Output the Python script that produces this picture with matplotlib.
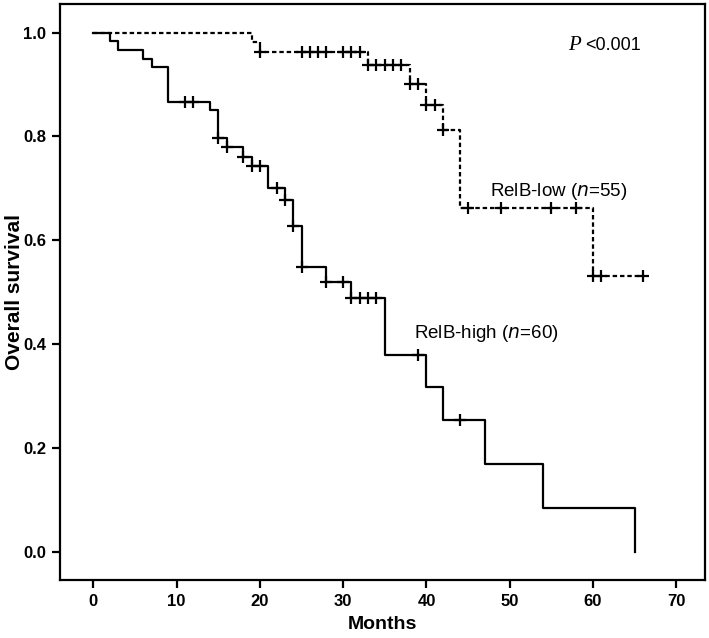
import numpy as np
import matplotlib
matplotlib.use("Agg")
import matplotlib.pyplot as plt

# RelB-high: event times (months) and survival after each step
high_t = [0, 2, 3, 6, 7, 9, 14, 15, 16, 18, 19, 21, 23, 24, 25, 28, 31, 35, 40, 42, 47, 54, 65]
high_s = [1.0, 0.983, 0.967, 0.95, 0.933, 0.867, 0.85, 0.797, 0.779, 0.760, 0.743, 0.70,
          0.677, 0.628, 0.549, 0.52, 0.488, 0.379, 0.317, 0.253, 0.169, 0.084, 0.0]
high_cens = [11, 12, 15, 16, 18, 19, 20, 22, 23, 24, 25, 28, 30, 31, 32, 33, 34, 39, 44]

# RelB-low
low_t = [0, 19, 20, 33, 38, 40, 42, 44, 60, 66]
low_s = [1.0, 0.981, 0.962, 0.937, 0.901, 0.86, 0.813, 0.663, 0.531, 0.531]
low_cens = [20, 25, 26, 27, 28, 30, 31, 32, 33, 34, 35, 36, 37, 38, 39, 40, 41, 42,
            45, 49, 55, 58, 60, 61, 66]


def surv_at(times, surv, t):
    idx = np.searchsorted(times, t, side="right") - 1
    return np.array(surv)[idx]


fig = plt.figure(figsize=(7.09, 6.38), dpi=100)
ax = fig.add_axes([0.0846, 0.0909, 0.9098, 0.9036])

ax.step(high_t, high_s, where="post", color="black", lw=1.6)
ax.plot(high_cens, surv_at(high_t, high_s, high_cens), "+", color="black",
        ms=8, mew=1.6)

ax.step(low_t, low_s, where="post", color="black", lw=1.6, linestyle=(0, (2, 1.3)))
ax.plot(low_cens, surv_at(low_t, low_s, low_cens), "+", color="black",
        ms=8, mew=1.6)

ax.set_xlim(-4, 73.45)
ax.set_ylim(-0.0545, 1.056)
ax.set_xticks(range(0, 71, 10))
ax.set_yticks([0.0, 0.2, 0.4, 0.6, 0.8, 1.0])
ax.set_yticklabels(["0.0", "0.2", "0.4", "0.6", "0.8", "1.0"])

for lab in ax.get_xticklabels() + ax.get_yticklabels():
    lab.set_fontfamily("Liberation Sans")
    lab.set_fontweight("bold")
    lab.set_fontsize(12)
ax.tick_params(direction="out", length=6, width=1.6, pad=4)
for sp in ax.spines.values():
    sp.set_linewidth(1.6)

xl = ax.set_xlabel("Months", fontsize=14, fontweight="bold", family="Liberation Sans")
xl.set_va("center")
ax.xaxis.set_label_coords(0.5, -0.078)
ax.set_ylabel("Overall survival", fontsize=15, fontweight="bold", family="Liberation Sans")
ax.yaxis.set_label_coords(-0.056, 0.5)

ax.text(38.5, 0.42, "RelB-high ($\\it{n}$=60)", fontsize=13.5,
        family="Liberation Sans", va="center", ha="left")
ax.text(47.6, 0.694, "RelB-low ($\\it{n}$=55)", fontsize=13.5,
        family="Liberation Sans", va="center", ha="left")
ax.text(57.0, 0.975, "P", fontsize=15, family="Liberation Serif", style="italic",
        va="center", ha="left")
ax.text(59.0, 0.975, "<0.001", fontsize=13, family="Liberation Sans",
        va="center", ha="left")

fig.savefig("out.png", dpi=100)
